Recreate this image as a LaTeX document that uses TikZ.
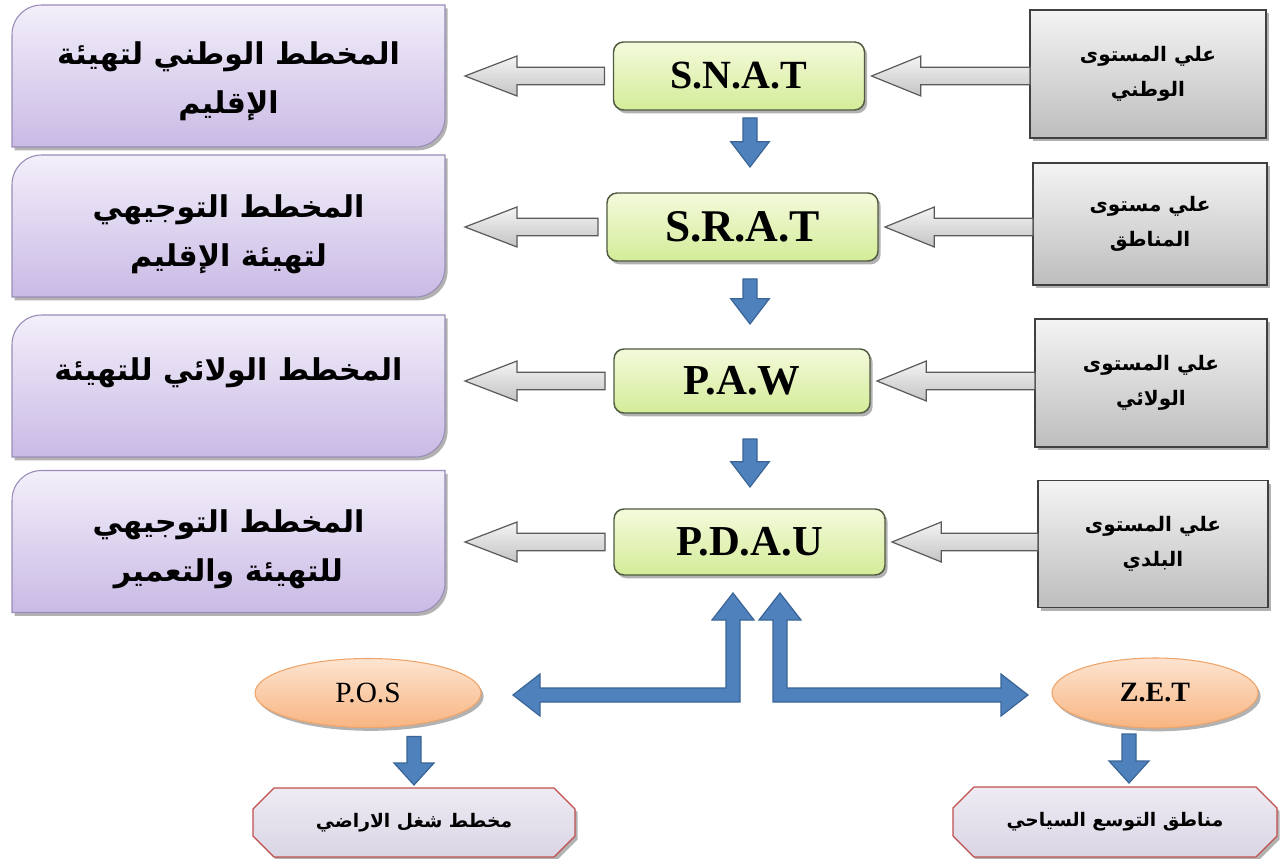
\documentclass[tikz,border=0pt]{standalone}
\usepackage{fontspec}
\setmainfont{Liberation Serif}
\newfontfamily\arabicfont[Script=Arabic]{DejaVu Sans}
\TeXXeTstate=1
\usetikzlibrary{calc,backgrounds,shadows,shapes.geometric}
\definecolor{pTop}{HTML}{F3EFFA}
\definecolor{pBot}{HTML}{C9BAE5}
\definecolor{pBorder}{HTML}{9A8CB8}
\definecolor{gTop}{HTML}{F4FADC}
\definecolor{gBot}{HTML}{D4EC98}
\definecolor{gBorder}{HTML}{4F5A40}
\definecolor{rTop}{HTML}{F4F4F4}
\definecolor{rBot}{HTML}{BDBDBD}
\definecolor{rBorder}{HTML}{404040}
\definecolor{aTop}{HTML}{F4F4F4}
\definecolor{aBot}{HTML}{C4C4C4}
\definecolor{aBorder}{HTML}{5A5A5A}
\definecolor{bFill}{HTML}{4F81BD}
\definecolor{bBorder}{HTML}{3A6596}
\definecolor{eTop}{HTML}{FDE4D0}
\definecolor{eBot}{HTML}{F8B582}
\definecolor{eBorder}{HTML}{EFA46A}
\definecolor{oTop}{HTML}{EEEBF3}
\definecolor{oBot}{HTML}{DAD5E4}
\definecolor{oBorder}{HTML}{C0504D}
\newcommand\pshape[1]{($(#1.north west)+(0,30)$) .. controls ($(#1.north west)+(0,13)$) and ($(#1.north west)+(13,0)$) .. ($(#1.north west)+(30,0)$) -- (#1.north east) -- ($(#1.south east)+(0,-30)$) .. controls ($(#1.south east)+(0,-13)$) and ($(#1.south east)+(-13,0)$) .. ($(#1.south east)+(-30,0)$) -- (#1.south west) -- cycle}
\newcommand\oshape[1]{($(#1.north west)+(21,0)$) -- ($(#1.north east)+(-21,0)$) -- ($(#1.north east)+(0,21)$) -- ($(#1.south east)+(0,-21)$) -- ($(#1.south east)+(-21,0)$) -- ($(#1.south west)+(21,0)$) -- ($(#1.south west)+(0,-21)$) -- ($(#1.north west)+(0,21)$) -- cycle}
\newcommand\blockarrow[6]{%
  \coordinate (hb) at ($(#3)!#6!(#2)$);
  \path[#1] (#3) -- ($(hb)!#5!90:(#3)$) -- ($(hb)!#4!90:(#3)$) -- ($(#2)!#4!90:(hb)$) -- ($(#2)!#4!-90:(hb)$) -- ($(hb)!#4!-90:(#3)$) -- ($(hb)!#5!-90:(#3)$) -- cycle;}
\tikzset{
  x=0.75pt, y=-0.75pt,
  every node/.style={inner sep=0pt, outer sep=0pt},
  softshadow/.style={drop shadow={shadow xshift=2pt, shadow yshift=-2.5pt, opacity=0.3, fill=black}},
  pbox/.style={minimum width=324.75pt, minimum height=106.5pt},
  pfill/.style={draw=pBorder, line width=0.8pt, top color=pTop, bottom color=pBot, softshadow},
  ptext/.style={font=\arabicfont\bfseries\fontsize{22.5}{37}\selectfont, align=center},
  gbox/.style 2 args={rectangle, rounded corners=7.5pt, draw=gBorder, line width=1.1pt, top color=gTop, bottom color=gBot, minimum width=#1*0.75pt, minimum height=#2*0.75pt, softshadow},
  rbox/.style 2 args={rectangle, draw=rBorder, line width=1.3pt, top color=rTop, bottom color=rBot, minimum width=#1*0.75pt, minimum height=#2*0.75pt, softshadow, align=center, font=\arabicfont\bfseries\fontsize{15}{26}\selectfont},
  ebox/.style 2 args={ellipse, draw=eBorder, line width=0.8pt, top color=eTop, bottom color=eBot, minimum width=#1*0.75pt, minimum height=#2*0.75pt, softshadow},
  obox/.style 2 args={minimum width=#1*0.75pt, minimum height=#2*0.75pt, font=\arabicfont\bfseries\fontsize{14}{16}\selectfont},
  ofill/.style={draw=oBorder, line width=0.9pt, top color=oTop, bottom color=oBot, softshadow},
  harrow/.style={draw=aBorder, line width=0.9pt, top color=aTop, bottom color=aBot},
  barrow/.style={fill=bFill, draw=bBorder, line width=0.9pt},
}
\begin{document}
\begin{tikzpicture}
\useasboundingbox (0,0) rectangle (1286,859);
\begin{pgfonlayer}{background}
\fill[white] (0,0) rectangle (1286,859);
\end{pgfonlayer}

% left purple boxes
\node[pbox] (p1) at (228.5,76) {};
\node[pbox] (p2) at (228.5,226) {};
\node[pbox] (p3) at (228.5,386) {};
\node[pbox] (p4) at (228.5,541.5) {};
\node[ptext] (p1t) at ($(p1)+(0,5)$) {\beginR المخطط الوطني لتهيئة\endR\\\beginR الإقليم\endR};
\node[ptext] (p2t) at ($(p2)+(0,8)$) {\beginR المخطط التوجيهي\endR\\\beginR لتهيئة الإقليم\endR};
\node[ptext] (p3t) at ($(p3)+(0,-13)$) {\beginR المخطط الولائي للتهيئة\endR};
\node[ptext] (p4t) at ($(p4)+(0,8)$) {\beginR المخطط التوجيهي\endR\\\beginR للتهيئة والتعمير\endR};

% centre green boxes
\node[gbox={251}{68}, font=\bfseries\fontsize{30}{30}\selectfont] (g1) at (739,76) {S.N.A.T};
\node[gbox={271}{68}, font=\bfseries\fontsize{34}{34}\selectfont] (g2) at (742.5,227) {S.R.A.T};
\node[gbox={256}{64}, font=\bfseries\fontsize{32}{32}\selectfont] (g3) at (742,381) {P.A.W};
\node[gbox={271}{66}, font=\bfseries\fontsize{32}{32}\selectfont] (g4) at (749.5,542) {P.D.A.U};

% right grey boxes
\node[rbox={236}{128}] (r1) at (1148,74) {\beginR علي المستوى\endR\\\beginR الوطني\endR};
\node[rbox={234}{122}] (r2) at (1150,224) {\beginR علي مستوى\endR\\\beginR المناطق\endR};
\node[rbox={232}{128}] (r3) at (1151,383) {\beginR علي المستوى\endR\\\beginR الولائي\endR};
\node[rbox={230}{127}] (r4) at (1153,544) {\beginR علي المستوى\endR\\\beginR البلدي\endR};

% ellipses
\node[ebox={226}{69}, font=\fontsize{22}{22}\selectfont] (pos) at (368,693) {P.O.S};
\node[ebox={206}{70}, font=\bfseries\fontsize{21}{21}\selectfont] (zet) at (1155,693) {Z.E.T};

% octagons
\node[obox={322}{69}] (o1) at (414,822.5) {\beginR مخطط شغل الاراضي\endR};
\node[obox={324}{70}] (o2) at (1115,822) {\beginR مناطق التوسع السياحي\endR};

\begin{scope}[on background layer]
\foreach \i in {1,...,4}{\path[pfill] \pshape{p\i};}
\path[ofill] \oshape{o1};
\path[ofill] \oshape{o2};
\end{scope}

% grey hollow arrows
\foreach \i in {1,...,4}{
  \coordinate (lt\i) at ($(g\i.west)+(-9,0)$);
  \coordinate (lh\i) at ($(p\i.east |- g\i.west)+(20,0)$);
  \blockarrow{harrow}{lt\i}{lh\i}{6.5pt}{15pt}{39pt}
  \coordinate (rt\i) at (r\i.west |- g\i.east);
  \coordinate (rh\i) at ($(g\i.east)+(7,0)$);
  \blockarrow{harrow}{rt\i}{rh\i}{6.5pt}{15pt}{37pt}
}

% blue down arrows between the levels
\coordinate (ax) at (750,0);
\coordinate (dt1) at ($(g1.south -| ax)+(0,8)$);
\coordinate (dh1) at ($(dt1)+(0,49)$);
\coordinate (dt2) at ($(g2.south -| ax)+(0,18)$);
\coordinate (dh2) at ($(dt2)+(0,45)$);
\coordinate (dt3) at ($(g3.south -| ax)+(0,26)$);
\coordinate (dh3) at ($(dt3)+(0,48)$);
\foreach \i in {1,2,3}{\blockarrow{barrow}{dt\i}{dh\i}{5.25pt}{14.5pt}{19pt}}

% bent double arrows from P.D.A.U
\coordinate (u1) at ($(g4.south)+(-16.5,18)$);
\coordinate (l1) at ($(pos.east)+(32,2)$);
\coordinate (c1) at (u1 |- l1);
\coordinate (u2) at ($(g4.south)+(30.5,18)$);
\coordinate (r2) at ($(zet.west)+(-24,2)$);
\coordinate (c2) at (u2 |- r2);
\path[barrow] (u1) -- ($(u1)+(21,27)$) -- ($(u1)+(7,27)$) -- ($(c1)+(7,7)$) -- ($(l1)+(27,7)$) -- ($(l1)+(27,21)$) -- (l1) -- ($(l1)+(27,-21)$) -- ($(l1)+(27,-7)$) -- ($(c1)+(-7,-7)$) -- ($(u1)+(-7,27)$) -- ($(u1)+(-21,27)$) -- cycle;
\path[barrow] (u2) -- ($(u2)+(21,27)$) -- ($(u2)+(7,27)$) -- ($(c2)+(7,-7)$) -- ($(r2)+(-27,-7)$) -- ($(r2)+(-27,-21)$) -- (r2) -- ($(r2)+(-27,21)$) -- ($(r2)+(-27,7)$) -- ($(c2)+(-7,7)$) -- ($(u2)+(-7,27)$) -- ($(u2)+(-21,27)$) -- cycle;

% small down arrows to the octagons
\coordinate (st1) at ($(pos.south -| o1.north)+(0,9)$);
\coordinate (sh1) at ($(o1.north)+(0,-3)$);
\blockarrow{barrow}{st1}{sh1}{5.25pt}{15pt}{16.5pt}
\coordinate (st2) at ($(zet.south -| o2.north)+(14,6)$);
\coordinate (sh2) at ($(o2.north)+(14,-4)$);
\blockarrow{barrow}{st2}{sh2}{5.25pt}{15pt}{16.5pt}
\end{tikzpicture}
\end{document}
